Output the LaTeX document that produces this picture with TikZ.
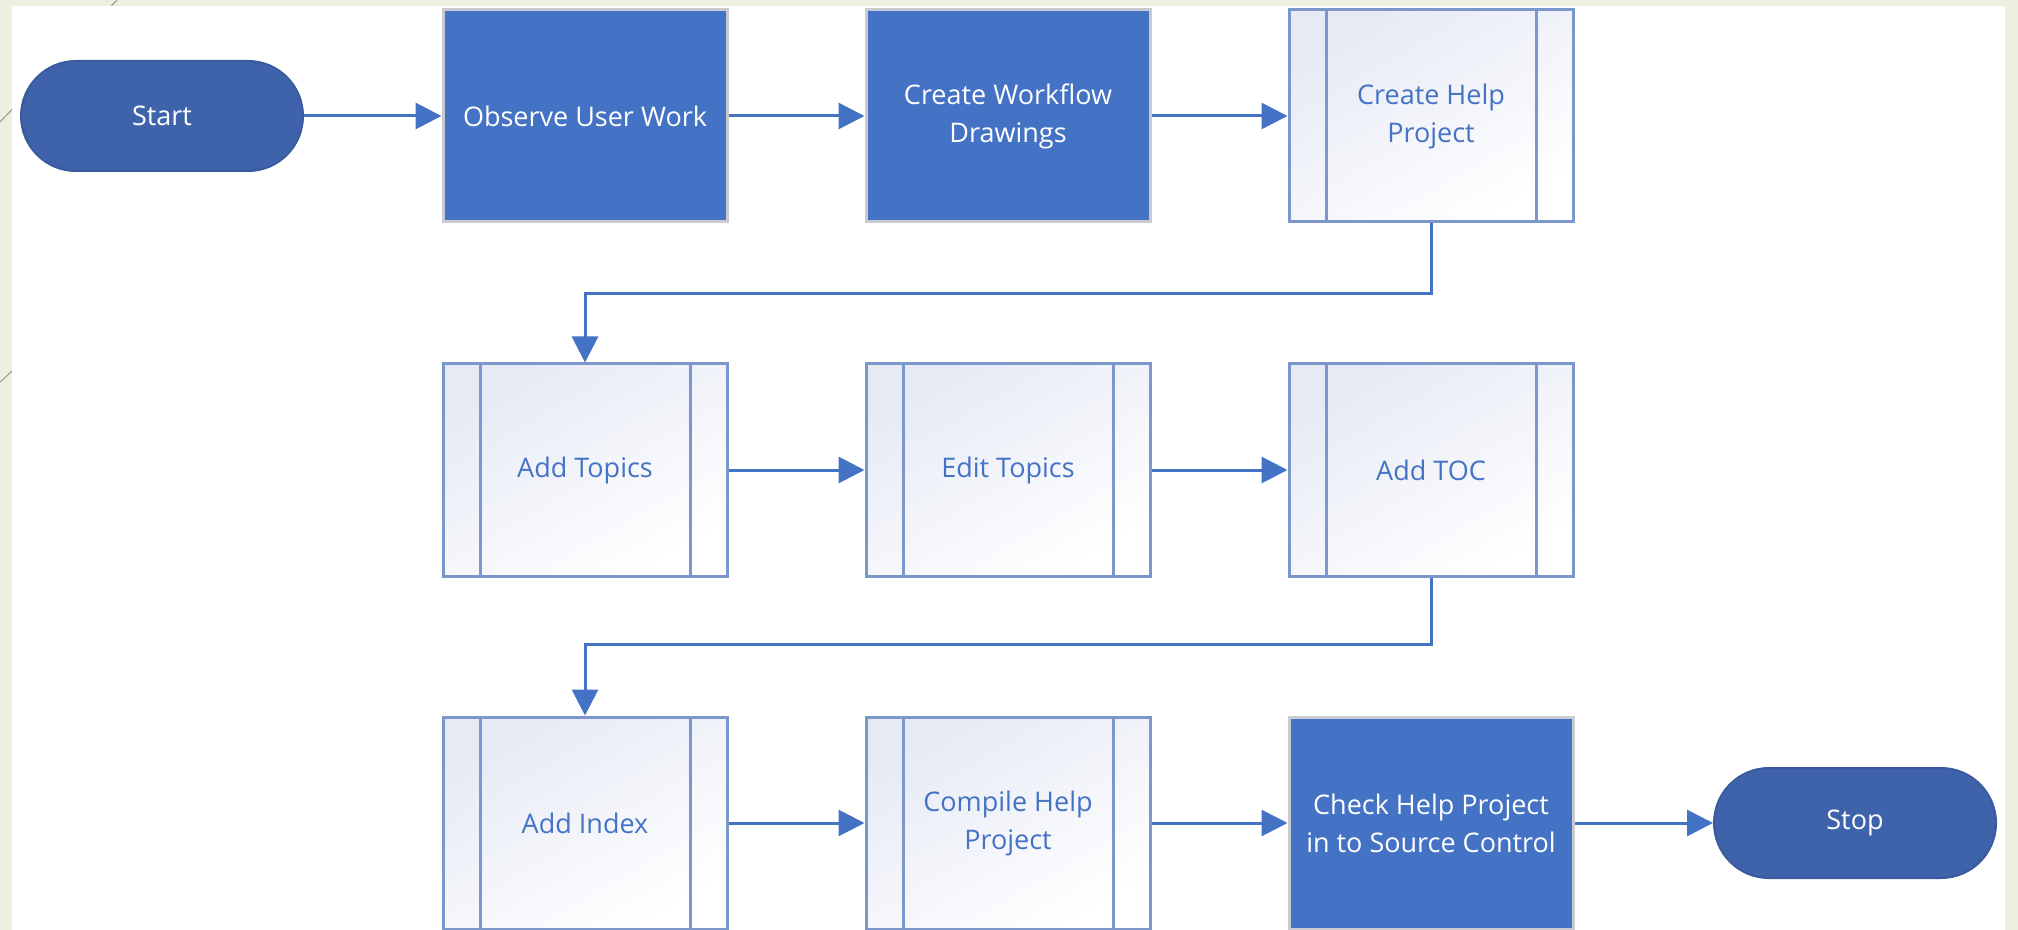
\documentclass[tikz,border=0pt]{standalone}
\usepackage{fontspec}
\setmainfont{Open Sans}
\usetikzlibrary{arrows.meta}
\definecolor{slidebg}{HTML}{EDF0DF}
\definecolor{boxblue}{HTML}{4472C4}
\definecolor{termblue}{HTML}{3F63AA}
\definecolor{termedge}{HTML}{395A9C}
\definecolor{ppedge}{HTML}{7C97CC}
\definecolor{ppfill}{HTML}{E6EAF5}
\definecolor{boxedge}{HTML}{C9CBD0}
\definecolor{decoline}{HTML}{9A9A88}
\tikzset{
  base/.style={minimum width=142pt, minimum height=106pt, align=center, inner sep=2pt,
    font=\fontsize{13.5}{19}\selectfont},
  terminal/.style={base, minimum width=141pt, minimum height=55pt, rounded corners=27.5pt,
    fill=termblue, draw=termedge, line width=1pt, text=white},
  process/.style={base, fill=boxblue, draw=boxedge, line width=1.5pt, text=white},
  subproc/.style={base, draw=ppedge, line width=1.5pt, text=boxblue,
    top color=ppfill, bottom color=white, shading angle=30,
    path picture={\draw[ppedge, line width=1.5pt]
      ([xshift=18.5pt]path picture bounding box.north west) -- ([xshift=18.5pt]path picture bounding box.south west)
      ([xshift=-18.5pt]path picture bounding box.north east) -- ([xshift=-18.5pt]path picture bounding box.south east);}},
  flow/.style={draw=boxblue, line width=1.5pt, -{Triangle[length=13pt,width=13pt]}}
}
\begin{document}
\begin{tikzpicture}[x=0.5pt, y=-0.5pt]
        \useasboundingbox (0,0) rectangle (2018,930);
        % slide background
        \fill[slidebg] (0,0) rectangle (2018,930);
        \draw[decoline, line width=0.5pt] (0,122) -- (117,0);
        \draw[decoline, line width=0.5pt] (0,382) -- (40,346);
        \fill[white] (12,6) rectangle (2005,930);

        \node[terminal] (start) at (162,116) {Start};
        \node[process] (observe) at (585,116) {Observe User Work};
        \node[process] (drawings) at (1008,116) {Create Workflow\\Drawings};
        \node[subproc] (project) at (1431,116) {Create Help\\Project};

        \node[subproc] (topics) at (585,470) {Add Topics};
        \node[subproc] (edit) at (1008,470) {Edit Topics};
        \node[subproc] (toc) at (1431,470) {Add TOC};

        \node[subproc] (index) at (585,823) {Add Index};
        \node[subproc] (compile) at (1008,823) {Compile Help\\Project};
        \node[process] (checkin) at (1431,823) {Check Help Project\\in to Source Control};
        \node[terminal] (stop) at (1855,823) {Stop};

        \draw[flow] (start) -- (observe);
        \draw[flow] (observe) -- (drawings);
        \draw[flow] (drawings) -- (project);
        \draw[flow] (project.south) -- ++(0,70) -| (topics.north);
        \draw[flow] (topics) -- (edit);
        \draw[flow] (edit) -- (toc);
        \draw[flow] (toc.south) -- ++(0,67) -| (index.north);
        \draw[flow] (index) -- (compile);
        \draw[flow] (compile) -- (checkin);
        \draw[flow] (checkin) -- (stop);
    \end{tikzpicture}
\end{document}
